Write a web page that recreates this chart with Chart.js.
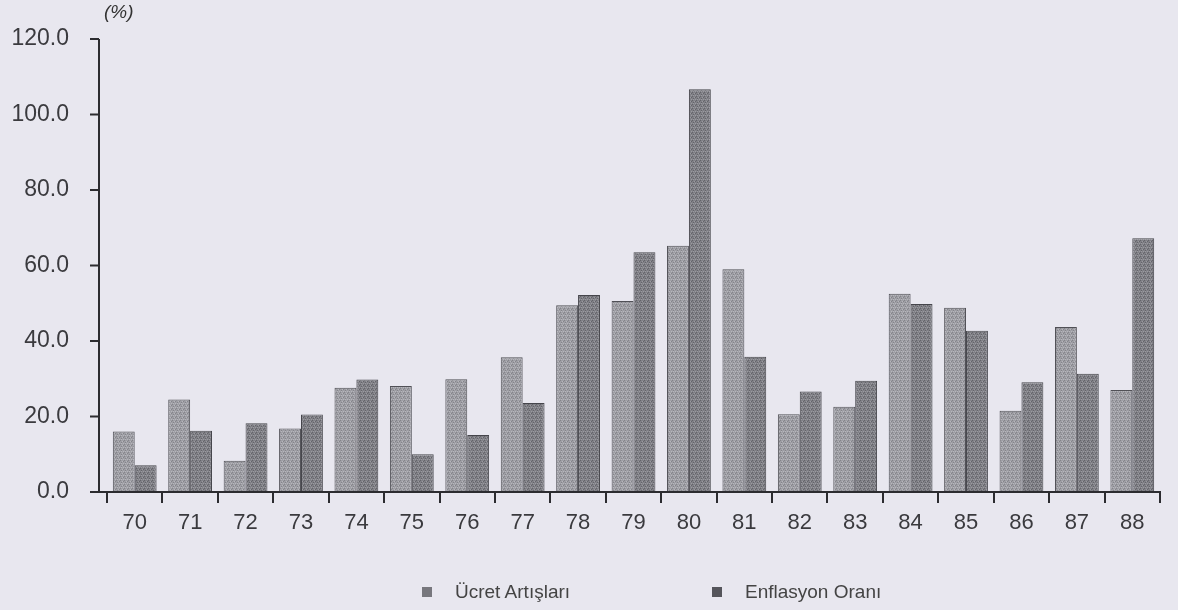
<!DOCTYPE html>
<html>
<head>
<meta charset="utf-8">
<script src="https://cdn.jsdelivr.net/npm/chart.js@4.4.0/dist/chart.umd.min.js"></script>
<style>
    html, body { margin: 0; padding: 0; background: #e8e7ef; }
    #wrap { position: relative; width: 1178px; height: 610px; }
    #unit { position: absolute; left: 104px; top: 1px; font: italic 19px "Liberation Sans", Arial, sans-serif; color: #333; }
    .leg { position: absolute; top: 580px; font: 19px "Liberation Sans", Arial, sans-serif; color: #444; line-height: 24px; }
    .leg i { position: absolute; top: 7px; width: 10px; height: 10px; }
</style>
</head>
<body>
<div id="wrap">
    <canvas id="chart" width="1178" height="610"></canvas>
    <div id="unit">(%)</div>
    <div class="leg" style="left:422px"><i style="left:0;background:#77777d"></i><span style="margin-left:33px">Ücret Artışları</span></div>
    <div class="leg" style="left:712px"><i style="left:0;background:#55555b"></i><span style="margin-left:33px">Enflasyon Oranı</span></div>
</div>
<script>
const years = ['70','71','72','73','74','75','76','77','78','79','80','81','82','83','84','85','86','87','88'];
const ucretArtislari = [16.0, 24.5, 8.3, 16.8, 27.6, 28.1, 29.9, 35.7, 49.5, 50.6, 65.2, 59.0, 20.6, 22.6, 52.5, 48.8, 21.5, 43.7, 27.0];
const enflasyonOrani = [7.1, 16.2, 18.2, 20.5, 29.8, 10.0, 15.1, 23.6, 52.2, 63.5, 106.7, 35.8, 26.6, 29.5, 49.8, 42.7, 29.1, 31.3, 67.2];
const yTicks = [0, 20, 40, 60, 80, 100, 120];

// small dithered fill so the bars look a bit like the printed stipple
function stipple(base, dark, light) {
    const c = document.createElement('canvas'); c.width = 4; c.height = 4;
    const g = c.getContext('2d');
    g.fillStyle = base; g.fillRect(0, 0, 4, 4);
    const marks = [[0,0,dark],[2,1,light],[1,2,dark],[3,3,light],[3,1,dark],[1,3,light]];
    marks.forEach(([x, y, col]) => { g.fillStyle = col; g.fillRect(x, y, 1, 1); });
    return g.createPattern(c, 'repeat');
}

const AXIS_X = 99;
const axisPlugin = {
    id: 'axes',
    afterDraw(chart) {
        const { ctx, chartArea, scales } = chart;
        ctx.save();
        ctx.strokeStyle = '#2c2c30'; ctx.lineWidth = 2;
        ctx.beginPath();
        ctx.moveTo(AXIS_X, chartArea.top); ctx.lineTo(AXIS_X, chartArea.bottom + 1);
        ctx.moveTo(AXIS_X - 1, chartArea.bottom); ctx.lineTo(chartArea.right + 1, chartArea.bottom);
        yTicks.forEach(v => {
            const y = scales.y.getPixelForValue(v);
            ctx.moveTo(AXIS_X - 9, y); ctx.lineTo(AXIS_X, y);
        });
        ctx.stroke();
        ctx.restore();
    }
};

const ctx = document.getElementById('chart').getContext('2d');
new Chart(ctx, {
    type: 'bar',
    data: {
        labels: years,
        datasets: [
            { label: 'Ücret Artışları', data: ucretArtislari, backgroundColor: stipple('#9e9ea4', '#84848a', '#b6b6bc'), borderColor: '#505056', borderWidth: 1 },
            { label: 'Enflasyon Oranı', data: enflasyonOrani, backgroundColor: stipple('#808086', '#64646a', '#9a9aa0'), borderColor: '#45454b', borderWidth: 1 }
        ]
    },
    options: {
        responsive: false,
        animation: false,
        layout: { padding: { top: 39, right: 18, left: 0, bottom: 0 } },
        plugins: { legend: { display: false }, tooltip: { enabled: false } },
        datasets: { bar: { categoryPercentage: 0.79, barPercentage: 1.0 } },
        scales: {
            x: {
                offset: true,
                grid: { display: true, offset: true, drawOnChartArea: false, drawTicks: true, tickLength: 11, color: '#2c2c30', lineWidth: 2 },
                border: { display: false },
                ticks: { color: '#3a3a3e', font: { family: '"Liberation Sans", Arial, sans-serif', size: 22 }, padding: 7, maxRotation: 0 },
                afterFit: s => { s.height = 118; }
            },
            y: {
                min: 0, max: 120,
                afterBuildTicks: s => { s.ticks = yTicks.map(v => ({ value: v })); },
                grid: { display: false },
                border: { display: false },
                ticks: { color: '#3a3a3e', font: { family: '"Liberation Sans", Arial, sans-serif', size: 23 }, padding: 30, callback: v => v.toFixed(1) },
                afterFit: s => { s.width = 107; s.paddingTop = 0; s.paddingBottom = 0; }
            }
        }
    },
    plugins: [axisPlugin]
});
</script>
</body>
</html>
